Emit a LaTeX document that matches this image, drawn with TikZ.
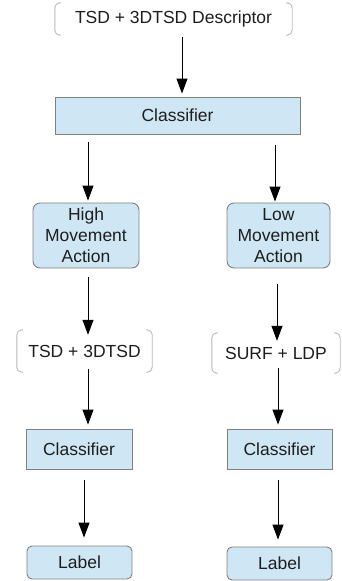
\documentclass[tikz,border=0pt]{standalone}
\usepackage{fontspec}
\setmainfont{Liberation Sans}
\usetikzlibrary{arrows.meta}
\definecolor{boxfill}{RGB}{207,231,245}
\definecolor{boxline}{RGB}{128,128,128}
\definecolor{brkline}{RGB}{185,185,185}
\definecolor{txt}{RGB}{30,30,30}
\begin{document}
\begin{tikzpicture}[x=1pt,y=-1pt,
  every node/.style={font=\fontsize{17.5}{21}\selectfont, text=txt, align=center, inner sep=0pt},
  sqbox/.style={draw=boxline, fill=boxfill, line width=0.9pt, minimum width=#1},
  rndbox/.style={draw=boxline, fill=boxfill, line width=0.9pt, rounded corners=7pt, minimum width=#1},
  brknode/.style={minimum width=#1},
  brk/.style={draw=brkline, line width=0.9pt, rounded corners=5pt},
  arr/.style={draw=black, line width=1pt, -{Triangle[width=11pt,length=15pt]}}
]
\useasboundingbox (0,0) rectangle (341,581);

\node[brknode=237, minimum height=32] (top) at (173.5,19) {TSD + 3DTSD Descriptor};
\node[sqbox=245, minimum height=37] (cls) at (177.5,115.5) {Classifier};
\node[rndbox=106, minimum height=65] (high) at (86,235.5) {High\\Movement\\Action};
\node[rndbox=103, minimum height=65] (low) at (278.5,235.5) {Low\\Movement\\Action};
\node[brknode=135, minimum height=42] (tsd) at (84.5,351) {TSD + 3DTSD};
\node[brknode=128, minimum height=40] (surf) at (276,353) {SURF + LDP};
\node[sqbox=106, minimum height=40] (cl1) at (79,449) {Classifier};
\node[sqbox=105, minimum height=40] (cl2) at (279.5,449) {Classifier};
\node[rndbox=105, minimum height=33, rounded corners=5pt] (lab1) at (79.5,562.5) {Label};
\node[rndbox=105, minimum height=33, rounded corners=5pt] (lab2) at (279.5,563.5) {Label};

\foreach \n in {top,tsd,surf}{
  \draw[brk] ([xshift=6pt]\n.north west) -- (\n.north west) -- (\n.south west) -- ([xshift=6pt]\n.south west);
  \draw[brk] ([xshift=-6pt]\n.north east) -- (\n.north east) -- (\n.south east) -- ([xshift=-6pt]\n.south east);
}

\draw[arr, shorten <=2pt, shorten >=3pt] ([xshift=8.5pt]top.south) -- ([xshift=4.5pt]cls.north);
\draw[arr, shorten <=8pt, shorten >=2pt] ([xshift=-89.5pt]cls.south) -- ([xshift=2pt]high.north);
\draw[arr, shorten <=11pt, shorten >=1pt] ([xshift=97.5pt]cls.south) -- ([xshift=-3.5pt]low.north);
\draw[arr, shorten <=9pt, shorten >=-5pt] ([xshift=2pt]high.south) -- ([xshift=3.5pt]tsd.north);
\draw[arr, shorten <=16pt, shorten >=-8pt] ([xshift=-1.5pt]low.south) -- ([xshift=1pt]surf.north);
\draw[arr, shorten <=-3pt, shorten >=4pt] ([xshift=3.5pt]tsd.south) -- ([xshift=9pt]cl1.north);
\draw[arr, shorten <=-5pt, shorten >=4pt] ([xshift=2pt]surf.south) -- ([xshift=-1.5pt]cl2.north);
\draw[arr, shorten <=11pt, shorten >=8pt] ([xshift=5pt]cl1.south) -- ([xshift=4.5pt]lab1.north);
\draw[arr, shorten <=11pt, shorten >=7pt] ([xshift=-1.5pt]cl2.south) -- ([xshift=-1.5pt]lab2.north);
\end{tikzpicture}
\end{document}
